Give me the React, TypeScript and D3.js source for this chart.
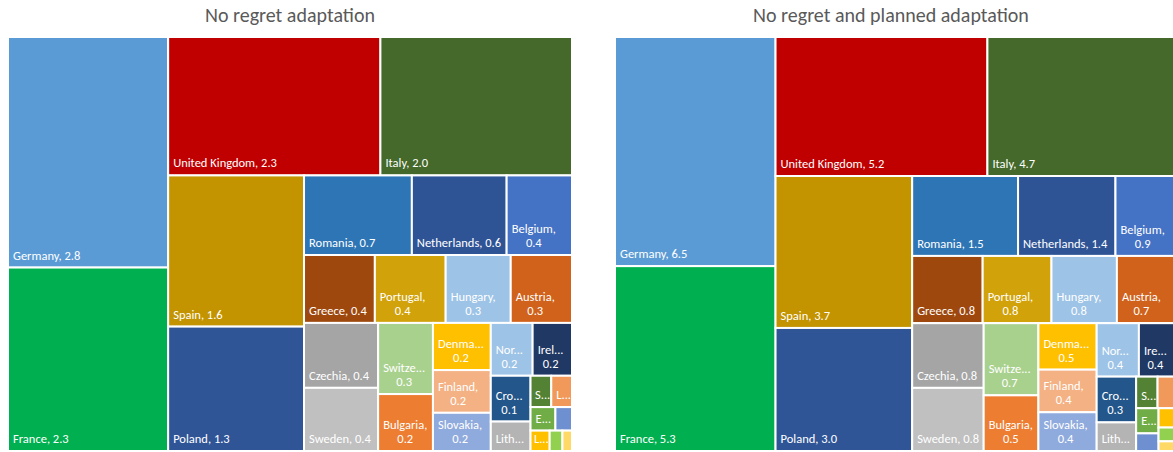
import React, { useEffect, useRef } from "react";
import * as d3 from "d3";

// ---------------- data ----------------
const countries = [
  "Germany", "France", "United Kingdom", "Italy", "Spain", "Poland",
  "Romania", "Netherlands", "Belgium", "Greece", "Portugal", "Hungary",
  "Austria", "Czechia", "Sweden", "Switzerland", "Bulgaria", "Denmark",
  "Finland", "Slovakia", "Norway", "Ireland", "Croatia", "Lithuania",
  "Slovenia", "Latvia", "Estonia", "Cyprus", "Luxembourg", "Malta", "Iceland",
];

const noRegret = [
  2.84, 2.26, 2.26, 2.04, 1.58, 1.3,
  0.66, 0.58, 0.4, 0.37, 0.37, 0.34,
  0.32, 0.37, 0.36, 0.3, 0.24, 0.21,
  0.19, 0.17, 0.17, 0.16, 0.14, 0.09,
  0.05, 0.05, 0.045, 0.03, 0.03, 0.02, 0.015,
];

const noRegretPlanned = [
  6.52, 5.26, 5.22, 4.72, 3.68, 2.98,
  1.5, 1.38, 0.9, 0.84, 0.82, 0.78,
  0.74, 0.82, 0.8, 0.7, 0.54, 0.48,
  0.44, 0.4, 0.4, 0.38, 0.32, 0.2,
  0.12, 0.12, 0.1, 0.07, 0.07, 0.05, 0.035,
];

const colors = [
  "#5B9BD5", "#00B050", "#C00000", "#44692B", "#C39300", "#2F5597",
  "#2E75B6", "#2F5496", "#4472C4", "#9E480E", "#D1A20A", "#9DC3E6",
  "#D0621B", "#A5A5A5", "#C0C0C0", "#A9D18E", "#ED7D31", "#FFC000",
  "#F4B183", "#8FAADC", "#9DC3E6", "#203864", "#23568A", "#B4B4B4",
  "#548235", "#F1995A", "#70AD47", "#6E8FD0", "#FFC000", "#92D050", "#FFD966",
];

const titles = ["No regret adaptation", "No regret and planned adaptation"];

// ---------------- layout ----------------
const W = 1173;
const H = 452;
const CHART_W = 564;
const CHART_H = 414;
const CHART_TOP = 37;
const CHART_LEFTS = [8, 615];
const FONT = "Calibri, Carlito, 'Liberation Sans', Arial, sans-serif";
const LABEL_SIZE = 12.5;
const TITLE_SIZE = 20;

// squarified tiling; rows run along the shorter side, except at the listed steps
const FLIP_STEPS = new Set([4]);

function worstRatio(sum: number, mn: number, mx: number, side: number, scale: number) {
  const t = (sum * scale) / side;
  const lMin = (mn * scale) / t;
  const lMax = (mx * scale) / t;
  return Math.max(lMax / t, t / lMax, lMin / t, t / lMin);
}

function excelTile(parent: any, x0: number, y0: number, x1: number, y1: number) {
  const nodes = parent.children;
  const n = nodes.length;
  let value = parent.value;
  let i0 = 0;
  let step = 0;
  while (i0 < n) {
    const dx = x1 - x0;
    const dy = y1 - y0;
    let horizontal = dx < dy;
    if (FLIP_STEPS.has(step)) horizontal = !horizontal;
    const side = horizontal ? dx : dy;
    const scale = (dx * dy) / value;
    let i1 = i0;
    let sum = 0;
    let mn = Infinity;
    let mx = 0;
    let worst = Infinity;
    while (i1 < n) {
      const v = nodes[i1].value;
      const s2 = sum + v;
      const mn2 = Math.min(mn, v);
      const mx2 = Math.max(mx, v);
      const w = worstRatio(s2, mn2, mx2, side, scale);
      if (i1 > i0 && w > worst) break;
      sum = s2;
      mn = mn2;
      mx = mx2;
      worst = w;
      i1++;
    }
    const row = { value: sum, children: nodes.slice(i0, i1) };
    if (i1 >= n) {
      if (horizontal) d3.treemapDice(row as any, x0, y0, x1, y1);
      else d3.treemapSlice(row as any, x0, y0, x1, y1);
    } else if (horizontal) {
      const h = (dy * sum) / value;
      d3.treemapDice(row as any, x0, y0, x1, y0 + h);
      y0 += h;
    } else {
      const w = (dx * sum) / value;
      d3.treemapSlice(row as any, x0, y0, x0 + w, y1);
      x0 += w;
    }
    value -= sum;
    i0 = i1;
    step++;
  }
}

const fmt = d3.format(".1f");

function drawTreemap(
  g: d3.Selection<SVGGElement, unknown, null, undefined>,
  values: number[],
  visibleRight: number,
) {
  const data = countries.map((name, i) => ({ name, value: values[i], color: colors[i] }));
  const root = d3
    .hierarchy<any>({ children: data })
    .sum((d: any) => d.value || 0);
  d3.treemap<any>().tile(excelTile as any).size([CHART_W, CHART_H])(root);
  const leaves = root.leaves() as any[];

  const cell = g
    .selectAll("g.cell")
    .data(leaves)
    .join("g")
    .attr("class", "cell");

  cell
    .append("rect")
    .attr("x", (d) => d.x0)
    .attr("y", (d) => d.y0)
    .attr("width", (d) => Math.max(0, d.x1 - d.x0))
    .attr("height", (d) => Math.max(0, d.y1 - d.y0))
    .attr("fill", (d) => d.data.color)
    .attr("stroke", "#ffffff")
    .attr("stroke-width", 2);

  const PAD = 5;
  const LINE = 14;
  cell.each(function (d: any) {
    const sel = d3.select(this);
    const right = Math.min(d.x1, visibleRight);
    const w = right - d.x0;
    const h = d.y1 - d.y0;
    const avail = w - PAD - 3;
    const availWrap = w - PAD - 5;
    if (w < 18 || h < 20) return;
    const t = sel
      .append("text")
      .attr("font-family", FONT)
      .attr("font-size", LABEL_SIZE)
      .attr("fill", "#ffffff");
    const measure = (s: string) => {
      t.text(s);
      return (t.node() as SVGTextElement).getComputedTextLength();
    };
    const valStr = fmt(d.data.value);
    const full = `${d.data.name}, ${valStr}`;
    if (measure(full) <= avail) {
      t.text(full).attr("x", d.x0 + PAD).attr("y", d.y1 - 8);
      return;
    }
    let first = `${d.data.name},`;
    if (measure(first) > availWrap) {
      const name = d.data.name;
      let k = name.length - 1;
      while (k > 1 && measure(name.slice(0, k) + "...") > availWrap) k--;
      first = name.slice(0, k) + "...";
      if (measure(first) > w - 3) {
        t.remove();
        return;
      }
    }
    const left = Math.min(d.x0 + PAD, right - 1 - measure(first));
    if (h < 38) {
      t.text(first).attr("x", Math.max(d.x0 + 1, left)).attr("y", d.y1 - 8);
      return;
    }
    const w1 = measure(first);
    const w2 = measure(valStr);
    const cx = d.x0 + PAD + Math.max(w1, w2) / 2;
    t.text(null).attr("text-anchor", "middle");
    t.append("tspan").attr("x", cx).attr("y", d.y1 - 8 - LINE).text(first);
    t.append("tspan").attr("x", cx).attr("y", d.y1 - 8).text(valStr);
  });
}

export default function App() {
  const ref = useRef<SVGSVGElement>(null);

  useEffect(() => {
    const svg = d3.select(ref.current);
    svg.selectAll("*").remove();
    [noRegret, noRegretPlanned].forEach((vals, k) => {
      svg
        .append("text")
        .attr("x", CHART_LEFTS[k] + CHART_W / 2 - (k === 1 ? 6 : 0))
        .attr("y", 22)
        .attr("text-anchor", "middle")
        .attr("font-family", FONT)
        .attr("font-size", TITLE_SIZE)
        .attr("fill", "#595959")
        .text(titles[k]);
      const g = svg
        .append("g")
        .attr("transform", `translate(${CHART_LEFTS[k]},${CHART_TOP})`);
      drawTreemap(g as any, vals, W - CHART_LEFTS[k]);
    });
  }, []);

  return (
    <svg
      ref={ref}
      width={W}
      height={H}
      style={{ position: "absolute", left: 0, top: 0, display: "block", background: "#ffffff" }}
    />
  );
}
